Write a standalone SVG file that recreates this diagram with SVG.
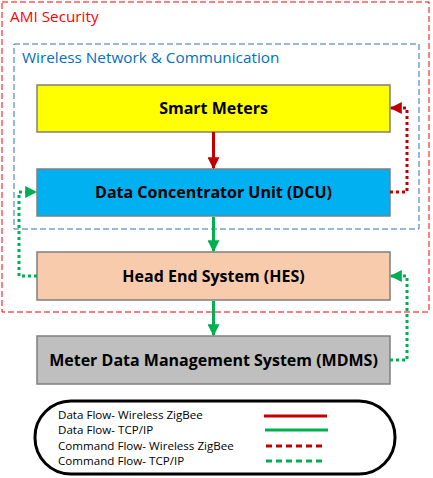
<svg xmlns="http://www.w3.org/2000/svg" width="433" height="478" viewBox="0 0 433 478">
<style>
.node{stroke:#7F7F7F;stroke-width:1.5}
.lbl{font-family:"Open Sans","Liberation Sans",sans-serif;font-weight:bold;font-size:16px;text-anchor:middle;fill:#000}
.lg{font-family:"Open Sans","Liberation Sans",sans-serif;font-size:11.6px;fill:#000}
.red{stroke:#C00000;stroke-width:3;fill:none}
.grn{stroke:#00B050;stroke-width:3;fill:none}
.dot{stroke-dasharray:3 3}
.ldash{stroke-dasharray:6 4}
</style>
<defs>
<marker id="ar" viewBox="0 0 10 10" refX="9" refY="5" markerWidth="4" markerHeight="4" orient="auto" markerUnits="strokeWidth"><path d="M0,0 L10,5 L0,10 z" fill="#C00000"/></marker>
<marker id="ag" viewBox="0 0 10 10" refX="9" refY="5" markerWidth="4" markerHeight="4" orient="auto" markerUnits="strokeWidth"><path d="M0,0 L10,5 L0,10 z" fill="#00B050"/></marker>
</defs>
<rect width="433" height="478" fill="#fff"/>
<g id="ami-security">
<rect x="2" y="2" width="427" height="310" fill="none" stroke="#FF0000" stroke-width="1" stroke-dasharray="6 3"/>
<text x="10" y="22" font-family="Open Sans, Liberation Sans, sans-serif" font-size="15.3" fill="#FF0000">AMI Security</text>
</g>
<g id="wireless-network">
<rect x="14" y="44" width="405" height="185" fill="none" stroke="#2E75B6" stroke-width="1" stroke-dasharray="6 3"/>
<text x="22" y="63" font-family="Open Sans, Liberation Sans, sans-serif" font-size="15.3" fill="#0070C0">Wireless Network &amp; Communication</text>
</g>
<g id="smart-meters">
<rect class="node" x="37" y="85" width="353" height="47" fill="#FFFF00"/>
<text class="lbl" x="213.5" y="114">Smart Meters</text>
</g>
<g id="dcu">
<rect class="node" x="37" y="169" width="353" height="47" fill="#00B0F0"/>
<text class="lbl" x="213.5" y="198">Data Concentrator Unit (DCU)</text>
</g>
<g id="hes">
<rect class="node" x="37" y="252" width="353" height="48" fill="#F8CBAD"/>
<text class="lbl" x="213.5" y="282">Head End System (HES)</text>
</g>
<g id="mdms">
<rect class="node" x="37" y="336" width="353" height="48" fill="#BFBFBF"/>
<text class="lbl" x="213.5" y="366">Meter Data Management System (MDMS)</text>
</g>
<g id="connectors">
<line class="red" x1="213.5" y1="132" x2="213.5" y2="168" marker-end="url(#ar)"/>
<line class="grn" x1="213.5" y1="217" x2="213.5" y2="251" marker-end="url(#ag)"/>
<line class="grn" x1="213.5" y1="301" x2="213.5" y2="335" marker-end="url(#ag)"/>
<path class="red dot" d="M390,192 H407 V108 H391" marker-end="url(#ar)"/>
<path class="grn dot" d="M37,276 H19 V192 H36" marker-end="url(#ag)"/>
<path class="grn dot" d="M390,360 H407 V276 H391" marker-end="url(#ag)"/>
</g>
<g id="legend">
<rect x="35" y="401" width="360" height="73" rx="36" ry="36" fill="none" stroke="#000" stroke-width="3"/>
<text class="lg" x="58" y="419">Data Flow- Wireless ZigBee</text>
<text class="lg" x="58" y="434">Data Flow- TCP/IP</text>
<text class="lg" x="58" y="450">Command Flow- Wireless ZigBee</text>
<text class="lg" x="58" y="465">Command Flow- TCP/IP</text>
<line class="red" x1="264" y1="416" x2="327" y2="416"/>
<line class="grn" x1="265" y1="430" x2="328" y2="430"/>
<line class="red ldash" x1="266" y1="446" x2="326" y2="446"/>
<line class="grn ldash" x1="266" y1="461" x2="326" y2="461"/>
</g>
</svg>
